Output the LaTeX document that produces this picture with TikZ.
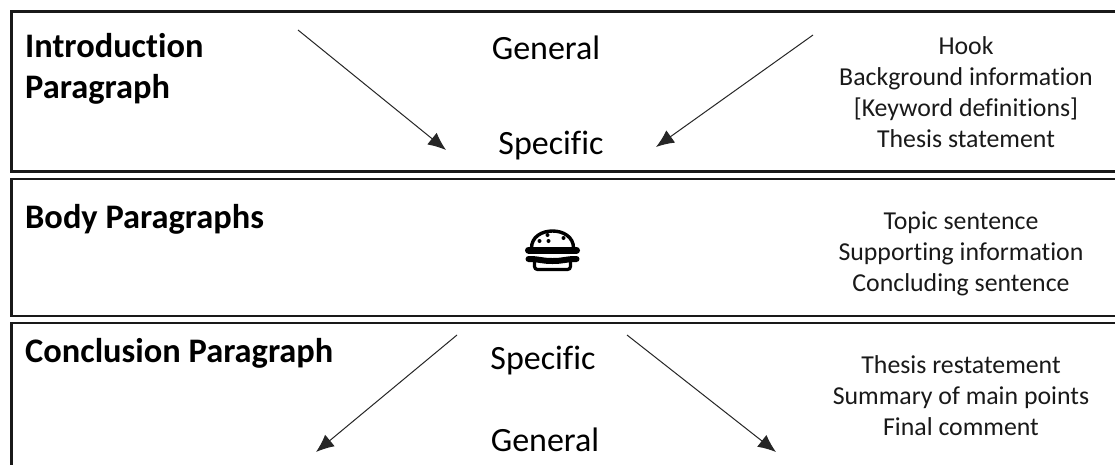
\documentclass[tikz,border=0pt]{standalone}
\usepackage{fontspec}
\setmainfont[Ligatures=CommonOff]{Carlito}
\usetikzlibrary{arrows.meta}
\begin{document}
\begin{tikzpicture}[x=1pt,y=-1pt,
 panel/.style={draw=black!90,line width=2.6pt},
 arrowline/.style={draw=black!85,line width=1pt,-{Latex[length=18pt,width=15pt]}},
 head/.style={anchor=west,font=\fontsize{34.4}{41}\selectfont\bfseries,align=left,inner sep=0pt},
 mid/.style={anchor=center,font=\fontsize{34}{40}\selectfont,inner sep=0pt},
 side/.style={anchor=center,align=center,font=\fontsize{25.8}{31}\selectfont,inner sep=0pt,text=black!90}]
\useasboundingbox (0,0) rectangle (1115,464);
\fill[white] (0,0) rectangle (1115,464);
\draw[panel] (1130,11.5) -- (11.5,11.5) -- (11.5,171.5) -- (1130,171.5);
\draw[panel] (1130,179) -- (11.5,179) -- (11.5,316) -- (1130,316);
\draw[panel] (1130,323) -- (11.5,323) -- (11.5,475);
\node[head] (intro) at (25,69) {Introduction\\Paragraph};
\node[head] (body) at (25,219) {Body Paragraphs};
\node[head] (conc) at (25,353) {Conclusion Paragraph};
\node[mid] (g1) at (546,48) {General};
\node[mid] (s1) at (551,146) {Specific};
\node[mid] (s2) at (543,361) {Specific};
\node[mid] (g2) at (545,440) {General};
\node[side] (t1) at (966,92) {Hook\\Background information\\{[Keyword definitions]}\\Thesis statement};
\node[side] (t2) at (961,254) {Topic sentence\\Supporting information\\Concluding sentence};
\node[side] (t3) at (961,396) {Thesis restatement\\Summary of main points\\Final comment};
\coordinate (a1) at (298,30); \coordinate (a2) at (446,150);
\coordinate (b1) at (813,35); \coordinate (b2) at (656,147);
\coordinate (c1) at (457,335); \coordinate (c2) at (316,452);
\coordinate (d1) at (627,335); \coordinate (d2) at (776,452);
\draw[arrowline] (a1) -- (a2);
\draw[arrowline] (b1) -- (b2);
\draw[arrowline] (c1) -- (c2);
\draw[arrowline] (d1) -- (d2);
% burger
\begin{scope}[shift={(552.5,248)}]
\draw[line width=3.4pt,fill=white] (-21,0) .. controls (-21,-11) and (-11,-17) .. (0,-17) .. controls (11,-17) and (21,-11) .. (21,0);
\draw[line width=7pt,line cap=round] (-24,2) -- (24,2);
\draw[line width=6pt,line cap=round] (-24,11) .. controls (-12,11) and (-12,13) .. (0,13) .. controls (12,13) and (12,11) .. (24,11);
\draw[line width=3.2pt,rounded corners=3pt] (-18,13) -- (-18,21.5) -- (18,21.5) -- (18,13);
\fill (-13,-7) circle (2pt) (-5,-13) circle (2pt) (-4,-7) circle (2pt) (11,-10) circle (2pt);
\end{scope}
\end{tikzpicture}
\end{document}
